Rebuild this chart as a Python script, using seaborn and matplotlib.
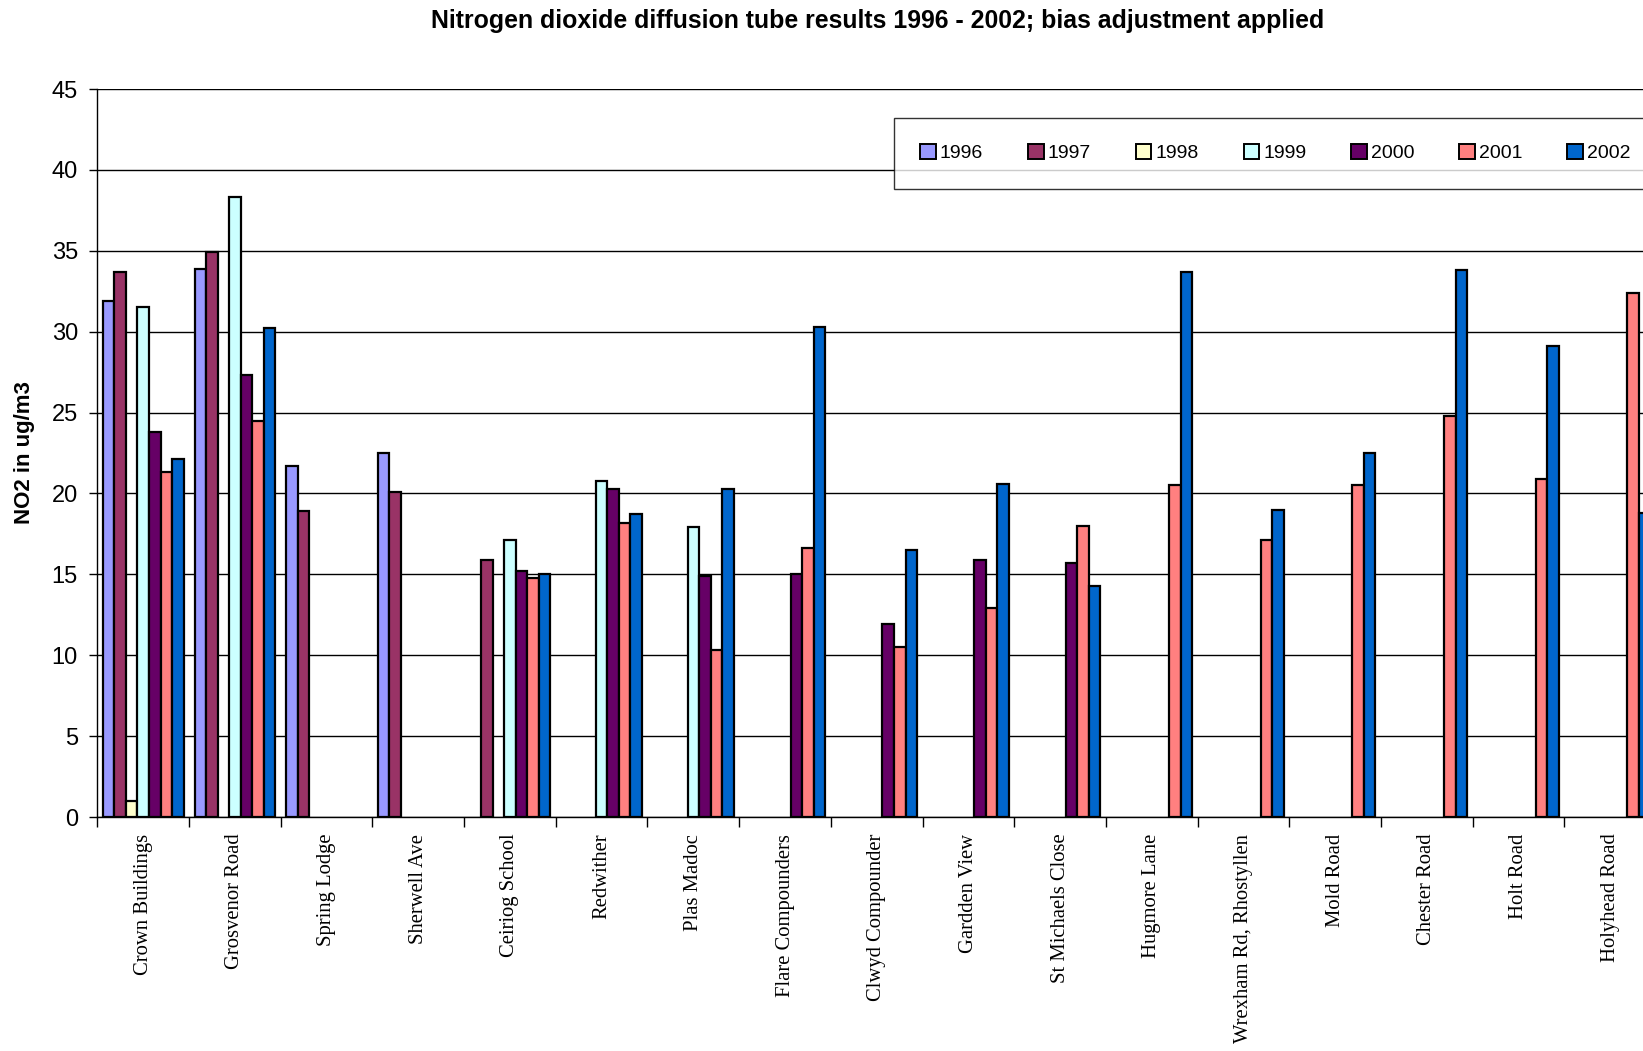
import numpy as np
import pandas as pd
import matplotlib
matplotlib.use("Agg")
import matplotlib.pyplot as plt
from matplotlib.patches import Patch
from matplotlib.ticker import FixedLocator, NullFormatter, FixedFormatter
import seaborn as sns

nan = np.nan
sites = ["Crown Buildings", "Grosvenor Road", "Spring Lodge", "Sherwell Ave",
         "Ceiriog School", "Redwither", "Plas Madoc", "Flare Compounders",
         "Clwyd Compounder", "Gardden View", "St Michaels Close", "Hugmore Lane",
         "Wrexham Rd, Rhostyllen", "Mold Road", "Chester Road", "Holt Road",
         "Holyhead Road"]
years = ["1996", "1997", "1998", "1999", "2000", "2001", "2002"]

y1996 = [31.9, 33.9, 21.7, 22.5, nan, nan, nan, nan, nan, nan, nan, nan, nan, nan, nan, nan, nan]
y1997 = [33.7, 34.9, 18.9, 20.1, 15.9, nan, nan, nan, nan, nan, nan, nan, nan, nan, nan, nan, nan]
y1998 = [1.0, nan, nan, nan, nan, nan, nan, nan, nan, nan, nan, nan, nan, nan, nan, nan, nan]
y1999 = [31.5, 38.3, nan, nan, 17.1, 20.8, 17.9, nan, nan, nan, nan, nan, nan, nan, nan, nan, nan]
y2000 = [23.8, 27.3, nan, nan, 15.2, 20.3, 14.9, 15.0, 11.9, 15.9, 15.7, nan, nan, nan, nan, nan, nan]
y2001 = [21.3, 24.5, nan, nan, 14.8, 18.2, 10.3, 16.6, 10.5, 12.9, 18.0, 20.5, 17.1, 20.5, 24.8, 20.9, 32.4]
y2002 = [22.1, 30.2, nan, nan, 15.0, 18.7, 20.3, 30.3, 16.5, 20.6, 14.3, 33.7, 19.0, 22.5, 33.8, 29.1, 18.8]

colors = ["#9999FF", "#993366", "#FFFFCC", "#CCFFFF", "#660066", "#FF8080", "#0066CC"]

series = [y1996, y1997, y1998, y1999, y2000, y2001, y2002]
rows = []
for yr, vals in zip(years, series):
    for s, v in zip(sites, vals):
        rows.append({"site": s, "year": yr, "value": v})
df = pd.DataFrame(rows)

sns.set_style("white")
plt.rcParams["font.family"] = ["Liberation Sans", "DejaVu Sans"]
plt.rcParams["text.color"] = "black"
plt.rcParams["axes.labelcolor"] = "black"
plt.rcParams["xtick.color"] = "black"
plt.rcParams["ytick.color"] = "black"

W, H = 1643, 1051
fig = plt.figure(figsize=(W / 100, H / 100), dpi=100)
left, right, top, bottom = 97.4, 1656, 89, 817
ax = fig.add_axes([left / W, 1 - bottom / H, (right - left) / W, (bottom - top) / H])

sns.barplot(data=df, x="site", y="value", hue="year", order=sites, hue_order=years,
            palette=colors, width=0.88, errorbar=None, edgecolor="black",
            linewidth=1.6, saturation=1, legend=False, ax=ax, zorder=3)

ax.set_xlim(-0.5, len(sites) - 0.5)
ax.set_ylim(0, 45)
ax.set_yticks(np.arange(0, 46, 5))
ax.yaxis.grid(True, color="black", linewidth=1.0, zorder=0)
ax.set_axisbelow(True)
for s in ["top", "right"]:
    ax.spines[s].set_visible(False)
for s in ["left", "bottom"]:
    ax.spines[s].set_color("black")
    ax.spines[s].set_linewidth(1.0)

ax.xaxis.set_major_locator(FixedLocator(np.arange(-0.5, len(sites), 1.0)))
ax.xaxis.set_major_formatter(NullFormatter())
ax.xaxis.set_minor_locator(FixedLocator(np.arange(0, len(sites))))
ax.xaxis.set_minor_formatter(FixedFormatter(sites))
ax.tick_params(axis="x", which="major", direction="out", length=7, width=1, color="black", bottom=True)
ax.tick_params(axis="x", which="minor", length=0, pad=12, labelsize=14.9, labelrotation=90)
for lab in ax.get_xticklabels(minor=True):
    lab.set_fontfamily("Liberation Serif")
    lab.set_verticalalignment("top")
ax.tick_params(axis="y", direction="out", length=6, width=1, color="black", left=True,
               labelsize=17, pad=8)
ax.set_xlabel("")
ax.set_ylabel("NO2 in ug/m3", fontsize=16, fontweight="bold")
ax.yaxis.set_label_coords((35.5 - left) / (right - left), 0.5)

fig.text(877.5 / W, 1 - 21 / H, "Nitrogen dioxide diffusion tube results 1996 - 2002; bias adjustment applied",
         ha="center", va="center", fontsize=17.9, fontweight="bold")

handles = [Patch(facecolor=c, edgecolor="black", linewidth=1.4, label=y) for c, y in zip(colors, years)]
leg = fig.legend(handles=handles, loc="upper left", bbox_to_anchor=(894 / W, 1 - 118 / H),
                 ncol=7, frameon=True, fontsize=14, handlelength=0.8, handleheight=0.8,
                 handletextpad=0.2, columnspacing=2.32, borderpad=1.35, fancybox=False,
                 borderaxespad=0)
leg.get_frame().set_edgecolor("black")
leg.get_frame().set_linewidth(1.0)

fig.savefig("out.png", dpi=100)
